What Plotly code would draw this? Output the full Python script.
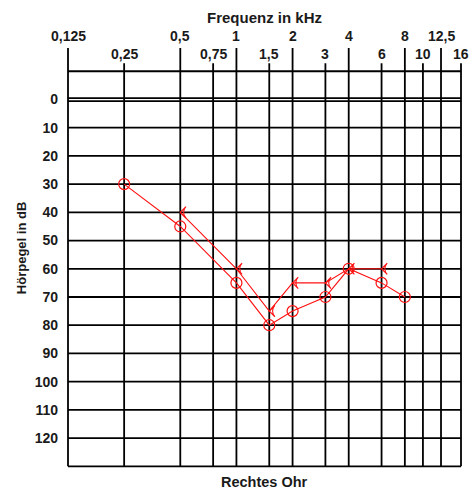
import numpy as np
import plotly.graph_objects as go

# ---- data ----
row1_freqs = [0.125, 0.5, 1, 2, 4, 8, 12.5]
row1_labels = ["0,125", "0,5", "1", "2", "4", "8", "12,5"]
row2_freqs = [0.25, 0.75, 1.5, 3, 6, 10, 16]
row2_labels = ["0,25", "0,75", "1,5", "3", "6", "10", "16"]

db_ticks = list(range(0, 130, 10))
db_labels = [str(v) for v in db_ticks]

air_freq = [0.25, 0.5, 1, 1.5, 2, 3, 4, 6, 8]
air_db = [30, 45, 65, 80, 75, 70, 60, 65, 70]

bone_freq = [0.5, 1, 1.5, 2, 3, 4, 6]
bone_db = [40, 60, 75, 65, 65, 60, 60]

# ---- style ----
GRID = "#000000"
RED = "#ff1010"
TXT = "#1a1a1a"
FONT = "Liberation Sans, Arial, sans-serif"
Y_TOP, Y_BOTTOM = -10, 130
ROW1_TOP, ROW2_TOP = -18.2, -12.8
XPAD = 0.0107
GW = 1.8

fig = go.Figure()

# vertical grid lines (extend above the box up to their labels)
for f in row1_freqs:
    fig.add_trace(go.Scatter(x=[f, f], y=[ROW1_TOP, Y_BOTTOM], mode="lines",
                             line=dict(color=GRID, width=GW), hoverinfo="skip", showlegend=False))
for f in row2_freqs:
    fig.add_trace(go.Scatter(x=[f, f], y=[ROW2_TOP, Y_BOTTOM], mode="lines",
                             line=dict(color=GRID, width=GW), hoverinfo="skip", showlegend=False))

# horizontal lines
xmin, xmax = min(row1_freqs), max(row2_freqs)
hlines = [Y_TOP] + [v for v in db_ticks if v != 0] + [Y_BOTTOM, -0.5, 0.6]
for yv in hlines:
    fig.add_trace(go.Scatter(x=[xmin, xmax], y=[yv, yv], mode="lines",
                             line=dict(color=GRID, width=GW), hoverinfo="skip", showlegend=False))

# data series
fig.add_trace(go.Scatter(x=bone_freq, y=bone_db, mode="lines+markers",
                         line=dict(color=RED, width=1.1),
                         marker=dict(symbol="arrow-wide-open", angle=-90, size=8,
                                     color=RED, line=dict(color=RED, width=1.1)),
                         showlegend=False))
fig.add_trace(go.Scatter(x=air_freq, y=air_db, mode="lines+markers",
                         line=dict(color=RED, width=1.1),
                         marker=dict(symbol="circle-open", size=11,
                                     color=RED, line=dict(color=RED, width=1.2)),
                         showlegend=False))

def bold(t):
    return "<b>" + t + "</b>"

annotations = []
for f, t in zip(row1_freqs, row1_labels):
    annotations.append(dict(x=np.log10(f), y=1.0213, xref="x", yref="paper", text=bold(t),
                            showarrow=False, xanchor="center", yanchor="middle",
                            font=dict(family=FONT, size=14, color=TXT)))
for f, t in zip(row2_freqs, row2_labels):
    annotations.append(dict(x=np.log10(f), y=0.9787, xref="x", yref="paper", text=bold(t),
                            showarrow=False, xanchor="center", yanchor="middle",
                            font=dict(family=FONT, size=14, color=TXT)))
annotations.append(dict(x=0.5, y=1.064, xref="paper", yref="paper", text=bold("Frequenz in kHz"),
                        showarrow=False, xanchor="center", yanchor="middle",
                        font=dict(family=FONT, size=15, color=TXT)))
annotations.append(dict(x=0.5, y=-0.033, xref="paper", yref="paper", text=bold("Rechtes Ohr"),
                        showarrow=False, xanchor="center", yanchor="middle",
                        font=dict(family=FONT, size=14.5, color=TXT)))
annotations.append(dict(x=-0.113, y=0.52, xref="paper", yref="paper", text=bold("Hörpegel in dB"),
                        showarrow=False, xanchor="center", yanchor="middle", textangle=-90,
                        font=dict(family=FONT, size=13, color=TXT)))

fig.update_layout(
    width=473, height=494,
    margin=dict(l=66, r=10, t=45, b=26),
    paper_bgcolor="white", plot_bgcolor="white",
    annotations=annotations,
    xaxis=dict(type="log", range=[np.log10(xmin) - XPAD, np.log10(xmax) + XPAD],
               showgrid=False, zeroline=False, showticklabels=False, ticks="",
               showline=False, fixedrange=True),
    yaxis=dict(range=[130.6, -19.3], showgrid=False, zeroline=False,
               tickmode="array", tickvals=db_ticks, ticktext=[bold(t) for t in db_labels],
               ticks="", ticklabelstandoff=7,
               tickfont=dict(family=FONT, size=14, color=TXT),
               showline=False, fixedrange=True),
)

fig.write_html("out.html")
